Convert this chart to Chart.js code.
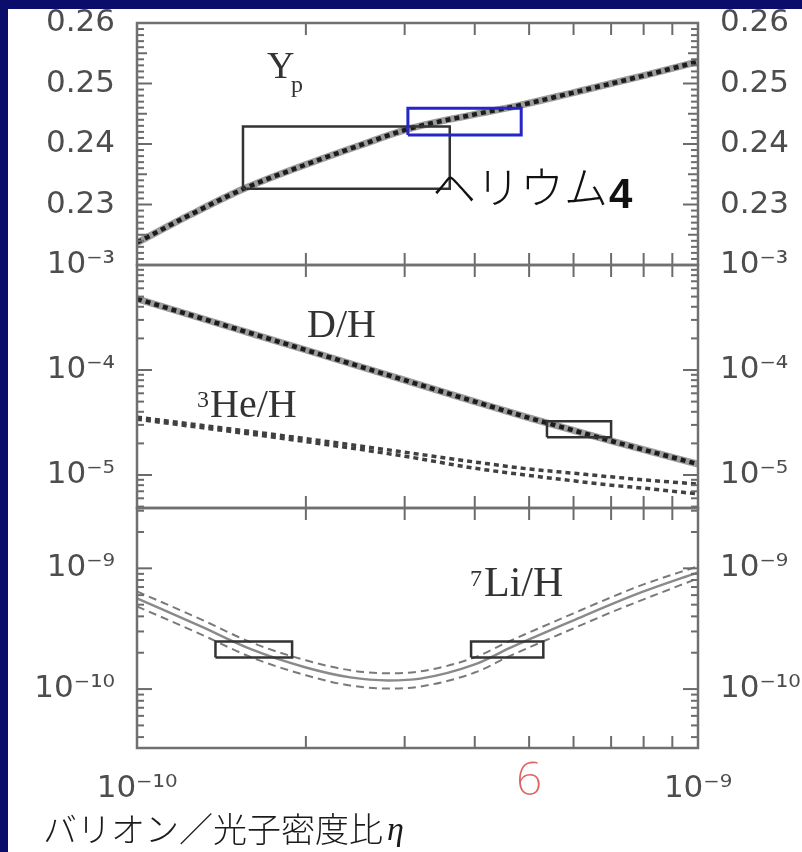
<!DOCTYPE html>
<html><head><meta charset="utf-8">
<script src="https://cdn.jsdelivr.net/npm/chart.js@4"></script>
<style>
html,body{margin:0;padding:0;background:#0b0d6b;width:802px;height:852px;overflow:hidden}
#paper{position:absolute;left:8px;top:9px;right:0;bottom:0;background:#fff}
#wrap{position:absolute;left:0;top:0;width:802px;height:852px}
</style></head><body>
<div id="paper"></div>
<div id="wrap"><canvas id="c" width="802" height="852"></canvas></div>
<script>
// ---- data (baryon-to-photon ratio eta on x) ----
const ypEta = [1.0e-10,1.25e-10,1.55e-10,2.0e-10,2.5e-10,3.05e-10,4.0e-10,4.76e-10,6.0e-10,8.0e-10,1.0e-9];
const ypVal = [0.2237,0.2284,0.2326,0.2366,0.2398,0.2425,0.2449,0.2463,0.2485,0.2513,0.2536];

const dhEta = [1.0e-10,1.5e-10,2.0e-10,3.0e-10,4.0e-10,5.0e-10,6.0e-10,7.0e-10,8.0e-10,1.0e-9];
const dhVal = [4.76e-4,2.47e-4,1.55e-4,8.0e-5,5.0e-5,3.5e-5,2.66e-5,2.11e-5,1.74e-5,1.27e-5];

const he3Eta = [1.0e-10,2.0e-10,3.0e-10,4.0e-10,5.0e-10,6.0e-10,7.0e-10,8.0e-10,1.0e-9];
const he3Hi  = [3.55e-5,2.22e-5,1.65e-5,1.33e-5,1.14e-5,1.04e-5,9.6e-6,9.0e-6,8.2e-6];
const he3Lo  = [3.40e-5,2.08e-5,1.51e-5,1.16e-5,9.9e-6,8.8e-6,8.0e-6,7.5e-6,6.6e-6];

const liEta = [1.0e-10,1.3e-10,1.6e-10,2.0e-10,2.4e-10,2.8e-10,3.2e-10,4.0e-10,4.6e-10,5.0e-10,6.0e-10,7.0e-10,8.0e-10,1.0e-9];
const liMid = [5.64e-10,3.30e-10,2.13e-10,1.51e-10,1.25e-10,1.18e-10,1.22e-10,1.60e-10,2.17e-10,2.58e-10,3.71e-10,5.03e-10,6.44e-10,9.27e-10];
const liHi  = [6.44e-10,3.78e-10,2.43e-10,1.73e-10,1.43e-10,1.35e-10,1.40e-10,1.83e-10,2.48e-10,2.94e-10,4.24e-10,5.75e-10,7.36e-10,1.04e-9];
const liLo  = [4.84e-10,2.84e-10,1.83e-10,1.30e-10,1.07e-10,1.01e-10,1.05e-10,1.37e-10,1.86e-10,2.21e-10,3.18e-10,4.32e-10,5.53e-10,8.26e-10];

// observational boxes: [etaLo, etaHi, valLo, valHi]
const ypBoxBlack = [1.545e-10, 3.61e-10, 0.2326, 0.2429];
const ypBoxBlue  = [3.04e-10, 4.84e-10, 0.2415, 0.2459];
const dhBox      = [5.38e-10, 7.0e-10, 2.29e-5, 3.25e-5];
const liBoxLeft  = [1.38e-10, 1.89e-10, 1.83e-10, 2.48e-10];
const liBoxRight = [3.94e-10, 5.3e-10, 1.83e-10, 2.48e-10];

// tick values
const xLabelTicks = [1e-10, 1e-9];
const xInnerTicks = [2e-10,3e-10,4e-10,5e-10,6e-10,7e-10,8e-10,9e-10];
const ypTicks = [0.23, 0.24, 0.25, 0.26];
const dhTicks = [1e-5, 1e-4, 1e-3];
const liTicks = [1e-10, 1e-9];
const markEta = 5e-10, markText = '6';

// ---- helpers ----
const SUP = {'-':'\u207B','0':'\u2070','1':'\u00B9','2':'\u00B2','3':'\u00B3','4':'\u2074','5':'\u2075','6':'\u2076','7':'\u2077','8':'\u2078','9':'\u2079'};
const fmtLog = v => '10' + String(Math.round(Math.log10(v))).split('').map(c => SUP[c]).join('');
const pts = (xs, ys) => xs.map((x, i) => ({x, y: ys[i]}));
const boxPts = b => [{x:b[0],y:b[2]},{x:b[1],y:b[2]},{x:b[1],y:b[3]},{x:b[0],y:b[3]},{x:b[0],y:b[2]}];

const tickFont = {family: 'DejaVu Sans', size: 31};
const tickColor = '#4d4d4d';

function yScale(type, min, max, pos, weight, stackWeight, tickVals, fmt) {
  return {
    type, min, max, position: pos, stack: pos, stackWeight, weight,
    grid: {display: false, drawTicks: false}, border: {display: false},
    afterBuildTicks: s => { s.ticks = tickVals.map(v => ({value: v})); },
    afterFit: s => { s.width = pos === 'left' ? 137 : 104; s.paddingTop = 0; s.paddingBottom = 0; },
    ticks: {autoSkip: false, padding: 22, color: tickColor, font: tickFont, callback: v => fmt(v)}
  };
}
const fmtLin = v => v.toFixed(2);

const bandStyle = {borderColor: '#9c9c9c', borderWidth: 7};
const dashStyle = {borderColor: '#1c1c1c', borderWidth: 4.5, borderDash: [5, 4]};
const boxStyle  = {borderColor: '#333', borderWidth: 2.5, cubicInterpolationMode: 'default', tension: 0};

// Chart.js paints the first dataset on top, so overlays come first
const datasets = [
  {data: boxPts(ypBoxBlue), yAxisID: 'y1', ...boxStyle, borderColor: '#2626c8', borderWidth: 3},
  {data: boxPts(ypBoxBlack), yAxisID: 'y1', ...boxStyle},
  {data: boxPts(dhBox), yAxisID: 'y2', ...boxStyle},
  {data: boxPts(liBoxLeft), yAxisID: 'y3', ...boxStyle},
  {data: boxPts(liBoxRight), yAxisID: 'y3', ...boxStyle},
  // Yp
  {data: pts(ypEta, ypVal), yAxisID: 'y1', ...dashStyle},
  {data: pts(ypEta, ypVal), yAxisID: 'y1', ...bandStyle},
  // D/H
  {data: pts(dhEta, dhVal), yAxisID: 'y2', ...dashStyle},
  {data: pts(dhEta, dhVal), yAxisID: 'y2', ...bandStyle},
  // 3He/H
  {data: pts(he3Eta, he3Hi), yAxisID: 'y2', borderColor: '#404040', borderWidth: 3.5, borderDash: [5, 4]},
  {data: pts(he3Eta, he3Lo), yAxisID: 'y2', borderColor: '#404040', borderWidth: 3.5, borderDash: [5, 4]},
  // 7Li/H
  {data: pts(liEta, liHi), yAxisID: 'y3', borderColor: '#7a7a7a', borderWidth: 2, borderDash: [8, 5]},
  {data: pts(liEta, liLo), yAxisID: 'y3', borderColor: '#7a7a7a', borderWidth: 2, borderDash: [8, 5]},
  {data: pts(liEta, liMid), yAxisID: 'y3', borderColor: '#8a8a8a', borderWidth: 2.5}
].map(d => Object.assign({xAxisID: 'x', fill: false, pointRadius: 0, cubicInterpolationMode: 'monotone'}, d));

function minorLog(min, max) {
  const out = [];
  for (let d = -13; d <= -2; d++) for (let k = 2; k <= 9; k++) { const v = k * Math.pow(10, d); if (v > min && v < max) out.push(v); }
  return out;
}
const panels = [
  {id: 'y1', major: [0.23, 0.24, 0.25], mid: [0.225, 0.235, 0.245, 0.255],
   minor: Array.from({length: 39}, (_, i) => +(0.221 + i * 0.001).toFixed(3)).filter(v => Math.round(v * 1000) % 5 !== 0)},
  {id: 'y2', major: [1e-5, 1e-4], mid: [], minor: minorLog(4.85e-6, 1e-3)},
  {id: 'y3', major: [1e-10, 1e-9], mid: [], minor: minorLog(3.25e-11, 3.16e-9)}
];

const framePlugin = {
  id: 'frame',
  afterDatasetsDraw(chart) {
    const c = chart.ctx, xs = chart.scales.x;
    const L = xs.left, R = xs.right;
    c.save();
    c.lineCap = 'butt';
    const seg = (x1, y1, x2, y2) => { c.beginPath(); c.moveTo(x1, y1); c.lineTo(x2, y2); c.stroke(); };
    for (const p of panels) {
      const s = chart.scales[p.id];
      c.strokeStyle = '#6b6b6b'; c.lineWidth = 2;
      const tk = (v, len) => { const y = s.getPixelForValue(v); seg(L, y, L + len, y); seg(R, y, R - len, y); };
      p.minor.forEach(v => tk(v, 7));
      p.mid.forEach(v => tk(v, 10));
      p.major.forEach(v => tk(v, 15));
      for (const v of xInnerTicks) { const x = xs.getPixelForValue(v); seg(x, s.top, x, s.top + 12); seg(x, s.bottom, x, s.bottom - 12); }
      c.strokeStyle = '#707070'; c.lineWidth = 2.5;
      c.strokeRect(L, s.top, R - L, s.bottom - s.top);
    }
    c.restore();
  },
  afterDraw(chart) {
    const c = chart.ctx, xs = chart.scales.x;
    c.save();
    c.textAlign = 'left'; c.textBaseline = 'alphabetic';
    c.fillStyle = '#333';
    c.font = '38px "Liberation Serif"'; c.fillText('Y', 267, 78);
    c.font = '24px "Liberation Serif"'; c.fillText('p', 291, 92);
    c.font = '40px "Liberation Serif"'; c.fillText('D/H', 307, 337);
    c.font = '24px "Liberation Serif"'; c.fillText('3', 197, 407);
    c.font = '40px "Liberation Serif"'; c.fillText('He/H', 210, 417);
    c.font = '24px "Liberation Serif"'; c.fillText('7', 470, 586);
    c.font = '42px "Liberation Serif"'; c.fillText('Li/H', 484, 596);
    // helium label
    c.fillStyle = '#111';
    c.font = '300 44px "Noto Sans CJK JP"';
    c.fillText('ヘリウム', 432, 204);
    const w = c.measureText('ヘリウム').width;
    c.font = 'bold 42px "Liberation Sans"';
    c.fillText('4', 432 + w + 1, 208);
    // red mark
    c.fillStyle = '#e06464';
    c.font = '200 46px "Noto Sans", "Open Sans", sans-serif';
    c.textAlign = 'center';
    c.fillText(markText, xs.getPixelForValue(markEta), 795);
    // x title
    c.textAlign = 'left';
    c.fillStyle = '#1a1a1a';
    c.font = '300 34px "Noto Sans CJK JP"';
    const title = 'バリオン／光子密度比';
    c.fillText(title, 43, 842);
    const tw = c.measureText(title).width;
    c.font = 'italic 34px "Liberation Serif"';
    c.fillText('η', 43 + tw + 4, 840);
    c.restore();
  }
};

new Chart(document.getElementById('c'), {
  type: 'line',
  data: {datasets},
  options: {
    responsive: false, animation: false,
    layout: {padding: {top: 23, left: 0, right: 0, bottom: 0}, autoPadding: false},
    plugins: {legend: {display: false}, tooltip: {enabled: false}},
    scales: {
      x: {
        type: 'logarithmic', position: 'bottom', min: 1e-10, max: 1e-9,
        grid: {display: false, drawTicks: false}, border: {display: false},
        afterBuildTicks: s => { s.ticks = xLabelTicks.map(v => ({value: v})); },
        afterFit: s => { s.height = 104; s.paddingLeft = 0; s.paddingRight = 0; },
        ticks: {autoSkip: false, maxRotation: 0, padding: 22, color: tickColor, font: tickFont, callback: v => fmtLog(v)}
      },
      y1: yScale('linear', 0.22, 0.26, 'left', 3, 242, ypTicks, fmtLin),
      y2: yScale('logarithmic', 4.85e-6, 1e-3, 'left', 2, 243, dhTicks, fmtLog),
      y3: yScale('logarithmic', 3.25e-11, 3.16e-9, 'left', 1, 240, liTicks, fmtLog),
      r1: yScale('linear', 0.22, 0.26, 'right', 1, 242, ypTicks, fmtLin),
      r2: yScale('logarithmic', 4.85e-6, 1e-3, 'right', 2, 243, dhTicks, fmtLog),
      r3: yScale('logarithmic', 3.25e-11, 3.16e-9, 'right', 3, 240, liTicks, fmtLog)
    }
  },
  plugins: [framePlugin]
});
</script>
</body></html>
